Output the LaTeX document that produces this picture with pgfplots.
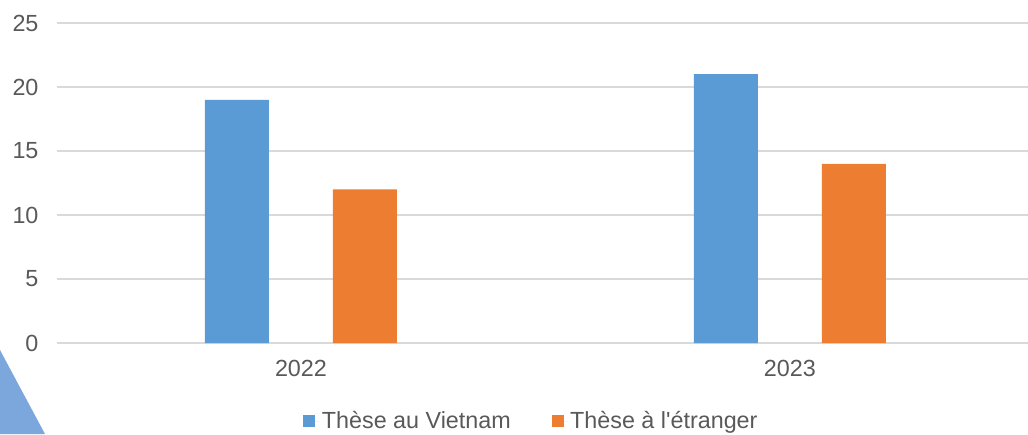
\documentclass[border=0pt]{standalone}
\usepackage{pgfplots}
\pgfplotsset{compat=1.18}
\usepackage{fontspec}
\setmainfont{Liberation Sans}

\definecolor{barblue}{HTML}{5B9BD5}
\definecolor{barorange}{HTML}{ED7D31}
\definecolor{gridgray}{HTML}{D9D9D9}
\definecolor{txtgray}{HTML}{595959}
\definecolor{deco}{HTML}{7BA7DC}

\begin{document}
\begin{tikzpicture}
  \begin{axis}[
      width=728.6pt,
      height=240pt,
      scale only axis,
      ybar=48pt,
      bar width=48pt,
      xmin=-0.5, xmax=1.487,
      ymin=0, ymax=25,
      xtick={0,1},
      xticklabels={2022,2023},
      ytick={0,5,...,25},
      major tick length=0pt,
      axis line style={draw=none},
      ymajorgrids,
      grid style={gridgray, line width=1.2pt},
      font=\fontsize{17.5}{21}\selectfont,
      ticklabel style={text=txtgray},
      yticklabel style={xshift=-10pt},
      xticklabel style={yshift=-9pt},
      /pgf/number format/assume math mode=true,
      clip=false,
      legend columns=2,
      legend style={
        at={(0.2537,-0.244)}, anchor=west,
        draw=none, fill=none, inner sep=0pt,
        text=txtgray,
        font=\fontsize{17.5}{21}\selectfont,
        /tikz/every even column/.append style={column sep=28.5pt},
      },
      legend image code/.code={
        \path (0pt,0pt) -- (12pt,0pt);
        \fill[#1,draw=none] (0pt,-4.5pt) rectangle (9pt,4.5pt);
      },
    ]
    \addplot[fill=barblue, draw=none] coordinates {(0,19) (1,21)};
    \addlegendentry{Thèse au Vietnam}
    \addplot[fill=barorange, draw=none] coordinates {(0,12) (1,14)};
    \addlegendentry{Thèse à l\textquotesingle étranger}

    % decorative corner shape from the slide
    \fill[deco] (rel axis cs:-0.05816,-0.021875) -- (rel axis cs:-0.01184,-0.2844)
      -- (rel axis cs:-0.05816,-0.2844) -- cycle;
    \coordinate (TL) at (rel axis cs:-0.05816,1.0719);
    \coordinate (BR) at (rel axis cs:1,-0.2844);
  \end{axis}
  \pgfresetboundingbox
  \path[use as bounding box] (TL) rectangle (BR);
\end{tikzpicture}
\end{document}
